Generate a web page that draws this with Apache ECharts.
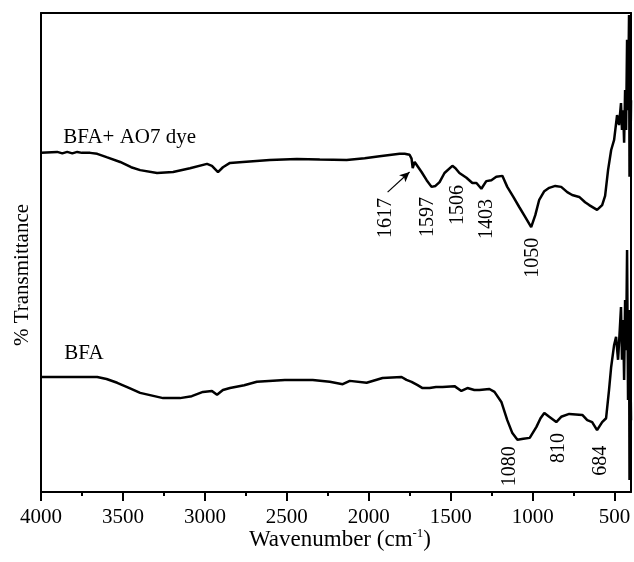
<!DOCTYPE html>
<html>
<head>
<meta charset="utf-8">
<script src="https://cdn.jsdelivr.net/npm/echarts@6/dist/echarts.min.js"></script>
<style>
  html, body { margin: 0; padding: 0; background: #fff; }
  #chart { width: 634px; height: 562px; }
</style>
</head>
<body>
<div id="chart"></div>
<script>
// BFA + AO7 dye spectrum (wavenumber, transmittance in arbitrary units)
var dyeWn = [4000, 3901, 3870, 3840, 3809, 3779, 3750, 3700, 3657, 3600, 3517, 3450, 3395, 3292, 3194, 3091, 2987, 2957, 2920, 2890,
    2847, 2768, 2604, 2439, 2299, 2135, 2025, 1934, 1812, 1781, 1751, 1739, 1732, 1720, 1708, 1678, 1647, 1617, 1593, 1568,
    1538, 1490, 1471, 1447, 1404, 1368, 1343, 1313, 1283, 1252, 1222, 1185, 1155, 1118, 1082, 1045, 1009, 984, 960, 929,
    899, 862, 826, 789, 759, 716, 680, 655, 607, 576, 558, 540, 521, 503, 485, 473, 461, 455, 448, 442,
    436, 430, 424, 418, 412, 409, 406, 403, 400];
var dyeT = [70.8, 71.0, 70.7, 71.0, 70.7, 71.0, 70.8, 70.8, 70.6, 69.9, 68.9, 67.8, 67.2, 66.6, 66.8, 67.6, 68.5, 68.1, 66.8, 67.8,
    68.7, 68.9, 69.3, 69.5, 69.4, 69.3, 69.7, 70.1, 70.6, 70.6, 70.4, 69.6, 67.6, 68.9, 68.7, 66.8, 65.1, 63.7, 63.9, 64.7,
    66.6, 68.1, 67.6, 66.6, 65.6, 64.5, 64.5, 63.3, 64.9, 65.1, 65.8, 66.0, 63.7, 61.6, 59.5, 57.4, 55.3, 57.8, 61.0, 62.8,
    63.5, 63.9, 63.7, 62.6, 62.0, 61.6, 60.5, 59.9, 58.9, 59.9, 61.8, 67.2, 71.4, 73.5, 78.7, 76.6, 81.2, 75.6, 79.7, 72.9,
    83.9, 75.6, 94.4, 79.7, 99.6, 65.8, 90.2, 71.4, 81.8];

// BFA spectrum
var bfaWn = [4000, 3700, 3657, 3600, 3535, 3460, 3395, 3255, 3152, 3080, 3012, 2957, 2926, 2890, 2847, 2760, 2683, 2512, 2342, 2238,
    2159, 2116, 2013, 1916, 1800, 1770, 1739, 1702, 1672, 1629, 1590, 1550, 1477, 1435, 1398, 1356, 1325, 1264, 1233, 1191,
    1155, 1124, 1093, 1057, 1018, 977, 952, 929, 899, 856, 826, 777, 697, 667, 637, 607, 576, 552, 534, 521,
    503, 491, 479, 473, 461, 455, 448, 442, 436, 430, 424, 418, 412, 409, 406, 400];
var bfaT = [24.0, 24.0, 24.0, 23.6, 22.8, 21.7, 20.7, 19.6, 19.6, 20.0, 20.9, 21.1, 20.3, 21.3, 21.7, 22.3, 23.0, 23.4, 23.4, 23.0,
    22.5, 23.2, 22.8, 23.8, 24.0, 23.4, 23.0, 22.3, 21.7, 21.7, 21.9, 21.9, 22.1, 21.1, 21.7, 21.3, 21.3, 21.5, 20.9, 18.8,
    15.0, 12.3, 10.9, 11.1, 11.3, 13.6, 15.4, 16.5, 15.7, 14.6, 15.7, 16.3, 16.1, 15.0, 14.6, 12.9, 14.6, 15.4, 21.3, 26.1,
    30.7, 32.4, 27.6, 31.1, 38.6, 27.6, 35.9, 23.4, 40.1, 29.6, 50.5, 19.2, 38.0, 2.5, 33.8, 15.0];

// peak annotations
var peakText = ['1617', '1597', '1506', '1403', '1050', '1080', '810', '684'];
var peakWn = [1897, 1641, 1458, 1281, 1001, 1141, 838, 582];
var peakT = [57.2, 57.4, 59.9, 57.0, 48.9, 5.4, 9.2, 6.5];

// curve names
var nameText = ['BFA+ AO7 dye', 'BFA'];
var nameWn = [3864, 3858];
var nameT = [74.1, 29.0];

var majorTicks = [500, 1000, 1500, 2000, 2500, 3000, 3500, 4000];
var minorTicks = [750, 1250, 1750, 2250, 2750, 3250, 3750];

var serif = "'Liberation Serif', 'DejaVu Serif', serif";
var ink = '#000';

function pairs(xs, ys) {
    var out = [];
    for (var i = 0; i < xs.length; i++) out.push([xs[i], ys[i]]);
    return out;
}

var myChart = echarts.init(document.getElementById('chart'));
var baseX = { type: 'value', min: 400, max: 4000, inverse: true, splitLine: { show: false } };

var option = {
    animation: false,
    grid: { left: 41, right: 3, top: 13, bottom: 70 },
    xAxis: [
        Object.assign({}, baseX, {
            position: 'bottom',
            axisLine: { lineStyle: { color: ink, width: 2 } },
            axisTick: { show: true, length: 9, inside: false, customValues: majorTicks, lineStyle: { color: ink, width: 2 } },
            axisLabel: {
                customValues: majorTicks, margin: 15, color: ink, fontSize: 21, fontFamily: serif,
                formatter: function (v) { return String(v); }
            }
        }),
        Object.assign({}, baseX, {
            position: 'bottom',
            axisLine: { show: false },
            axisTick: { show: true, length: 4, customValues: minorTicks, lineStyle: { color: ink, width: 2 } },
            axisLabel: { show: false }
        }),
        Object.assign({}, baseX, {
            position: 'top',
            axisLine: { lineStyle: { color: ink, width: 2 } },
            axisTick: { show: false },
            axisLabel: { show: false }
        })
    ],
    yAxis: [
        { type: 'value', min: 0, max: 100, position: 'left', splitLine: { show: false },
          axisLine: { show: true, lineStyle: { color: ink, width: 2 } }, axisTick: { show: false }, axisLabel: { show: false } },
        { type: 'value', min: 0, max: 100, position: 'right', splitLine: { show: false },
          axisLine: { show: true, lineStyle: { color: ink, width: 2 } }, axisTick: { show: false }, axisLabel: { show: false } }
    ],
    graphic: [
        { type: 'text', x: 22, y: 275, rotation: Math.PI / 2,
          style: { text: '% Transmittance', fill: ink, font: '21px ' + serif, align: 'center', verticalAlign: 'middle' } },
        { type: 'text', x: 340, y: 540,
          style: {
              text: '{a|Wavenumber (cm}{s|-1}{a|)}', fill: ink, align: 'center', verticalAlign: 'middle',
              rich: {
                  a: { fontSize: 23, fontFamily: serif, lineHeight: 26, fill: ink },
                  s: { fontSize: 13, fontFamily: serif, lineHeight: 26, verticalAlign: 'top', fill: ink }
              }
          } }
    ],
    series: [
        {
            name: 'BFA+ AO7 dye', type: 'line', data: pairs(dyeWn, dyeT), showSymbol: false,
            lineStyle: { color: '#000', width: 2.5 },
            markLine: {
                silent: true, symbol: ['none', 'arrow'], symbolSize: [7, 10],
                lineStyle: { color: '#000', width: 1.2, type: 'solid' }, label: { show: false },
                data: [[{ coord: [1885, 62.6] }, { coord: [1751, 66.8] }]]
            }
        },
        {
            name: 'BFA', type: 'line', data: pairs(bfaWn, bfaT), showSymbol: false,
            lineStyle: { color: '#000', width: 2.5 }
        },
        {
            type: 'scatter', data: pairs(peakWn, peakT), symbolSize: 0, silent: true,
            itemStyle: { opacity: 1 },
            label: {
                show: true, position: 'inside', rotate: 90, color: ink, fontSize: 20, fontFamily: serif,
                formatter: function (p) { return peakText[p.dataIndex]; }
            }
        },
        {
            type: 'scatter', data: pairs(nameWn, nameT), symbolSize: 0, silent: true,
            itemStyle: { opacity: 1 },
            label: {
                show: true, position: 'right', distance: 0, color: ink, fontSize: 21, fontFamily: serif,
                formatter: function (p) { return nameText[p.dataIndex]; }
            }
        }
    ]
};
myChart.setOption(option);
</script>
</body>
</html>
